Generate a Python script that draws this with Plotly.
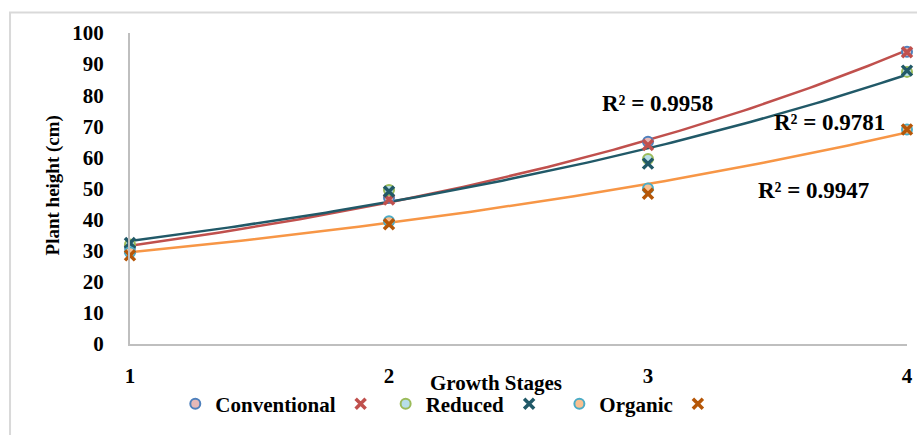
import numpy as np
import plotly.graph_objects as go

stages = [1, 2, 3, 4]
tick_labels = ["1", "2", "3", "4"]

conventional = [31, 47, 65, 94]
conventional_x = [30.5, 46.5, 64, 93.8]
reduced = [32, 49.5, 59.5, 87.5]
reduced_x = [32.5, 49, 58, 87.9]
organic = [29.5, 39.5, 50, 69]
organic_x = [28.5, 38.5, 48.3, 69]

r2_labels = ["R² = 0.9958", "R² = 0.9781", "R² = 0.9947"]
r2_pos = [(3.035, 77.3), (3.70, 71.2), (3.64, 49.2)]

FONT = "Liberation Serif"

fig = go.Figure()

def exp_trend(xs, ys):
    xs = np.array(xs, float)
    b, lna = np.polyfit(xs, np.log(np.array(ys, float)), 1)
    xx = np.linspace(1, 4, 120)
    return xx, np.exp(lna + b * xx)

trend_colors = ["#C0504D", "#215968", "#F79646"]
for ys, col in zip([conventional, reduced, organic], trend_colors):
    xx, yy = exp_trend(stages, ys)
    fig.add_trace(go.Scatter(x=xx, y=yy, mode="lines", line=dict(color=col, width=2.5),
                             showlegend=False, hoverinfo="skip", cliponaxis=False))

series = [
    ("Conventional", conventional, "circle", "#E6B9B8", "#4F81BD"),
    ("", conventional_x, "x-thin", "#C0504D", "#C0504D"),
    ("Reduced", reduced, "circle", "#B7DEE8", "#9BBB59"),
    (" ", reduced_x, "x-thin", "#215968", "#215968"),
    ("Organic", organic, "circle", "#FAC090", "#4BACC6"),
    ("  ", organic_x, "x-thin", "#B65708", "#B65708"),
]
for name, ys, sym, fill, edge in series:
    if sym == "circle":
        mk = dict(symbol="circle", size=10, color=fill, line=dict(color=edge, width=2))
    else:
        mk = dict(symbol="x-thin", size=10, color=fill, line=dict(color=edge, width=3.5))
    fig.add_trace(go.Scatter(x=stages, y=ys, mode="markers", name=name, marker=mk,
                             cliponaxis=False))

for txt, (ax, ay) in zip(r2_labels, r2_pos):
    fig.add_annotation(x=ax, y=ay, text=txt, showarrow=False, xref="x", yref="y",
                       font=dict(family=FONT, size=23, color="black", weight="bold"))

fig.add_annotation(x=-0.099, y=0.51, xref="paper", yref="paper", text="Plant height (cm)",
                   textangle=-90, showarrow=False, xanchor="center", yanchor="middle",
                   font=dict(family=FONT, size=19, color="black", weight="bold"))
fig.add_annotation(x=0.471, y=-0.127, xref="paper", yref="paper", text="Growth Stages",
                   showarrow=False, xanchor="center", yanchor="middle",
                   font=dict(family=FONT, size=21, color="black", weight="bold"))

fig.add_shape(type="rect", xref="paper", yref="paper", x0=-0.1544, x1=1.05, y0=-0.35, y1=1.066,
              line=dict(color="#D9D9D9", width=2), fillcolor="rgba(0,0,0,0)", layer="below")

fig.update_layout(
    width=917, height=435,
    margin=dict(l=130, r=10, t=33, b=83),
    paper_bgcolor="white", plot_bgcolor="white",
    font=dict(family=FONT, size=20, color="black", weight="bold"),
    xaxis=dict(range=[1, 4], tickvals=stages, ticktext=tick_labels, showgrid=False,
               zeroline=False, showline=True, linecolor="#BFBFBF", linewidth=2,
               ticks="", ticklabelstandoff=12, automargin=False,
               tickfont=dict(family=FONT, size=21, color="black", weight="bold")),
    yaxis=dict(range=[0, 100], dtick=10, showgrid=False, zeroline=False, showline=True,
               linecolor="#BFBFBF", linewidth=2, ticks="", ticklabelstandoff=20, automargin=False,
               tickfont=dict(family=FONT, size=21, color="black", weight="bold")),
    legend=dict(orientation="h", x=0.418, xanchor="center", y=-0.193, yanchor="middle",
                font=dict(family=FONT, size=21, color="black", weight="bold"),
                itemwidth=30, tracegroupgap=0, bgcolor="rgba(0,0,0,0)"),
    showlegend=True,
)

fig.write_html("out.html", config={"displayModeBar": False},
               post_script="document.body.style.margin='0';document.body.style.overflow='hidden';")
